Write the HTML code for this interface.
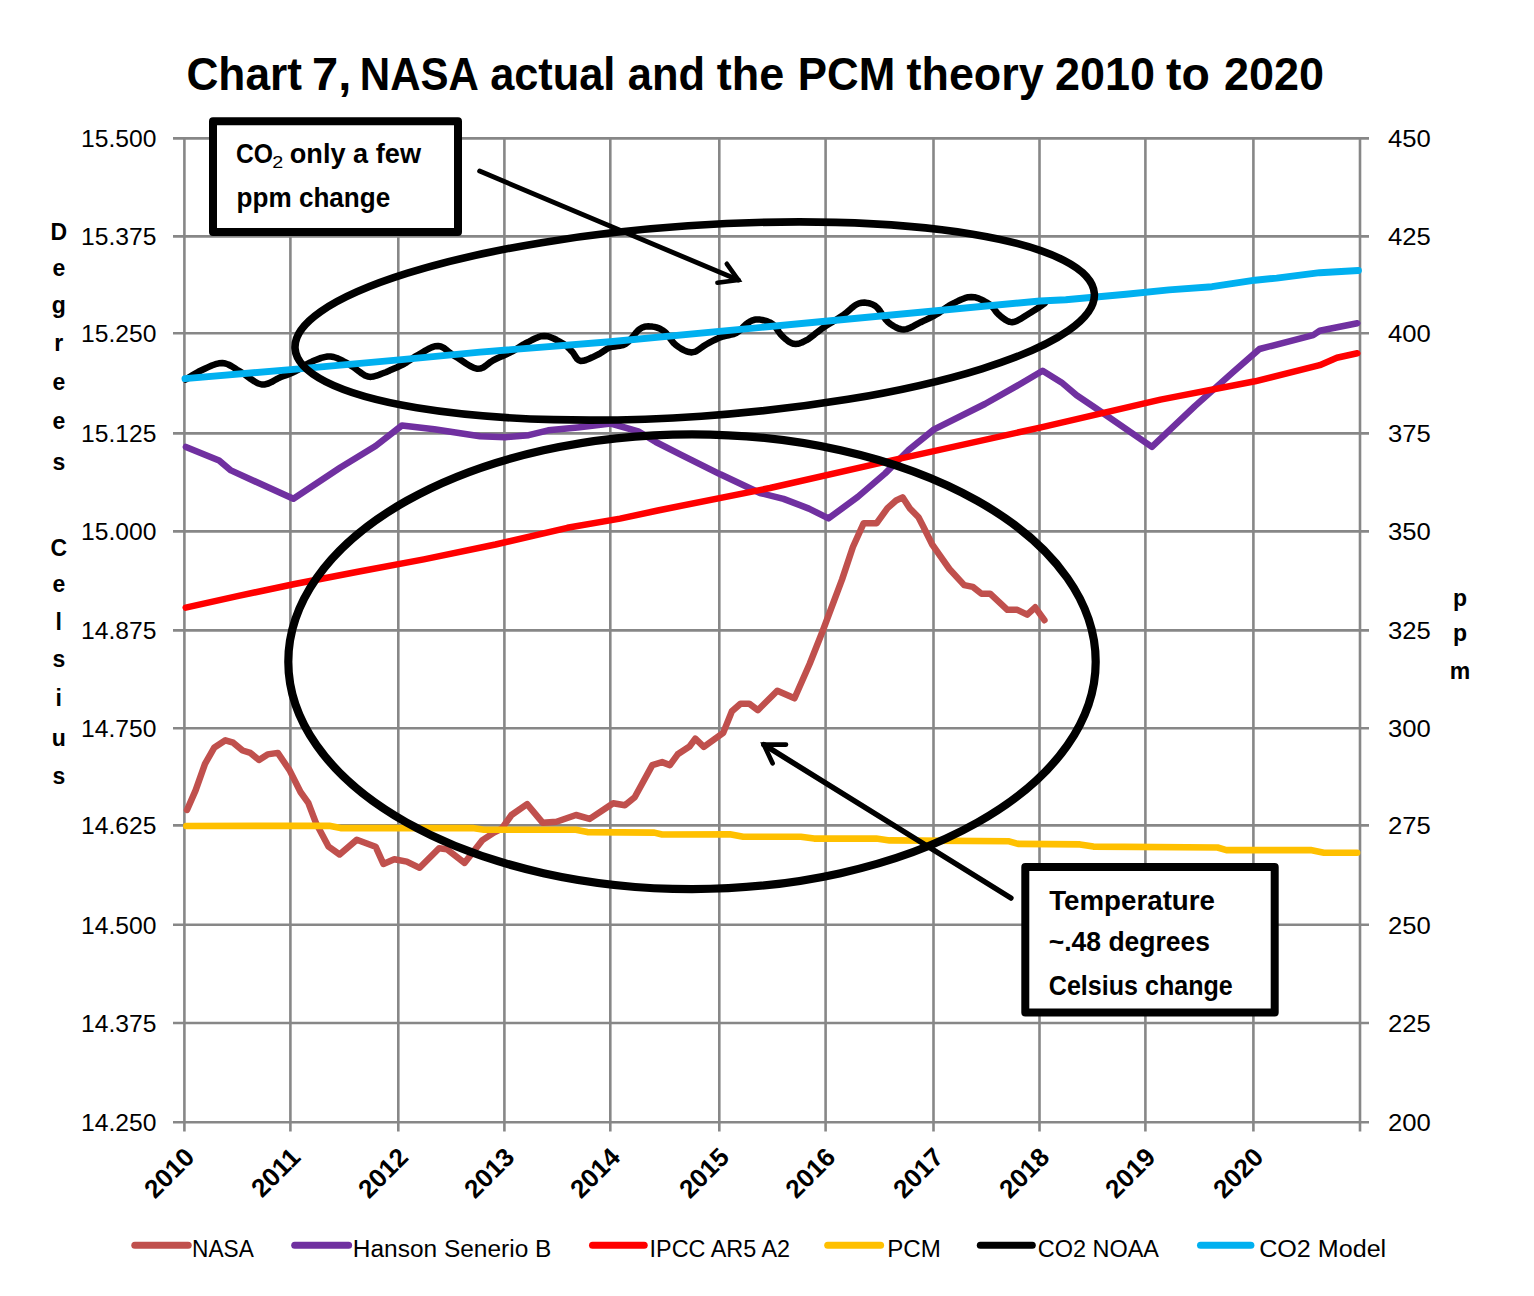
<!DOCTYPE html>
<html><head><meta charset="utf-8"><title>Chart 7, NASA actual and the PCM theory 2010 to 2020</title>
<style>html,body{margin:0;padding:0;background:#fff;overflow:hidden;}svg{display:block;}text{font-family:"Liberation Sans",sans-serif;fill:#000;}</style>
</head><body>
<svg width="1534" height="1296" viewBox="0 0 1534 1296"><line x1="173" y1="138.4" x2="1369" y2="138.4" stroke="#878787" stroke-width="2.6"/>
<line x1="173" y1="236.4" x2="1369" y2="236.4" stroke="#878787" stroke-width="2.6"/>
<line x1="173" y1="333.3" x2="1369" y2="333.3" stroke="#878787" stroke-width="2.6"/>
<line x1="173" y1="433.4" x2="1369" y2="433.4" stroke="#878787" stroke-width="2.6"/>
<line x1="173" y1="531.4" x2="1369" y2="531.4" stroke="#878787" stroke-width="2.6"/>
<line x1="173" y1="630.4" x2="1369" y2="630.4" stroke="#878787" stroke-width="2.6"/>
<line x1="173" y1="728.2" x2="1369" y2="728.2" stroke="#878787" stroke-width="2.6"/>
<line x1="173" y1="825.4" x2="1369" y2="825.4" stroke="#878787" stroke-width="2.6"/>
<line x1="173" y1="924.8" x2="1369" y2="924.8" stroke="#878787" stroke-width="2.6"/>
<line x1="173" y1="1023.0" x2="1369" y2="1023.0" stroke="#878787" stroke-width="2.6"/>
<line x1="173" y1="1122.3" x2="1369" y2="1122.3" stroke="#878787" stroke-width="2.6"/>
<line x1="184.4" y1="138.4" x2="184.4" y2="1131.5" stroke="#878787" stroke-width="2.6"/>
<line x1="290.4" y1="138.4" x2="290.4" y2="1131.5" stroke="#878787" stroke-width="2.6"/>
<line x1="398.3" y1="138.4" x2="398.3" y2="1131.5" stroke="#878787" stroke-width="2.6"/>
<line x1="504.4" y1="138.4" x2="504.4" y2="1131.5" stroke="#878787" stroke-width="2.6"/>
<line x1="610.3" y1="138.4" x2="610.3" y2="1131.5" stroke="#878787" stroke-width="2.6"/>
<line x1="719.3" y1="138.4" x2="719.3" y2="1131.5" stroke="#878787" stroke-width="2.6"/>
<line x1="825.6" y1="138.4" x2="825.6" y2="1131.5" stroke="#878787" stroke-width="2.6"/>
<line x1="933.5" y1="138.4" x2="933.5" y2="1131.5" stroke="#878787" stroke-width="2.6"/>
<line x1="1039.5" y1="138.4" x2="1039.5" y2="1131.5" stroke="#878787" stroke-width="2.6"/>
<line x1="1145.4" y1="138.4" x2="1145.4" y2="1131.5" stroke="#878787" stroke-width="2.6"/>
<line x1="1253.4" y1="138.4" x2="1253.4" y2="1131.5" stroke="#878787" stroke-width="2.6"/>
<line x1="1360.0" y1="138.4" x2="1360.0" y2="1131.5" stroke="#878787" stroke-width="2.6"/>
<polyline points="187.0,810.0 195.6,790.4 205.0,763.8 214.4,747.4 225.4,740.3 233.2,742.7 242.6,750.5 250.4,752.9 259.0,759.9 267.6,754.4 277.8,752.9 289.5,770.1 300.5,792.0 308.3,802.9 316.1,823.3 328.6,846.7 339.6,854.5 356.8,839.7 375.6,846.7 383.4,863.9 394.3,859.2 406.8,861.6 419.6,867.8 439.1,848.2 446.9,849.2 464.5,862.9 482.1,840.4 493.9,832.6 501.7,828.6 511.5,815.0 527.1,804.2 542.8,822.8 556.5,821.8 576.0,815.0 589.7,818.9 613.2,803.2 624.9,805.2 634.7,797.3 652.3,765.1 662.1,762.1 669.9,765.1 677.7,754.3 689.5,746.5 695.3,738.7 703.8,746.9 723.2,732.9 731.9,711.3 740.5,703.7 749.2,703.7 757.8,710.2 777.3,690.7 794.5,698.3 809.7,663.7 822.6,631.3 842.1,579.4 852.9,547.0 863.7,523.2 876.7,523.2 887.5,508.1 896.1,500.5 902.6,497.3 909.9,508.5 918.5,517.2 923.5,527.0 932.1,544.3 940.7,556.7 949.4,569.0 964.2,585.1 972.8,586.9 981.5,593.7 990.1,593.7 1007.4,609.8 1017.3,609.8 1027.2,614.7 1035.2,607.3 1044.4,620.2" fill="none" stroke="#C0504D" stroke-width="6.5" stroke-linejoin="round" stroke-linecap="round"/>
<polyline points="185.9,446.9 219.1,460.6 230.9,470.4 293.4,498.8 340.4,467.5 375.6,446.0 402.0,425.4 434.3,429.3 480.0,436.2 505.2,437.2 528.7,435.2 548.2,430.3 577.6,427.4 610.8,423.5 638.2,431.3 655.8,442.0 681.2,454.8 720.3,474.3 760.0,493.0 783.5,498.9 808.9,508.6 828.5,518.4 857.8,496.9 885.2,473.4 908.6,450.0 934.1,429.4 984.9,404.0 1014.3,387.4 1042.6,370.8 1061.5,382.4 1076.6,395.3 1095.9,408.2 1151.9,446.9 1194.9,406.1 1233.6,371.6 1259.5,349.0 1313.2,335.1 1319.7,330.8 1357.3,323.2" fill="none" stroke="#7030A0" stroke-width="6.5" stroke-linejoin="round" stroke-linecap="round"/>
<polyline points="185.7,607.6 237.4,596.1 294.7,584.0 357.9,571.7 423.8,559.4 495.5,544.5 567.3,527.8 620.0,518.6 657.8,510.5 770.0,488.0 877.3,463.7 1040.0,427.6 1160.5,399.6 1255.0,381.3 1319.7,365.2 1336.9,357.7 1357.3,353.3" fill="none" stroke="#FF0000" stroke-width="6.5" stroke-linejoin="round" stroke-linecap="round"/>
<polyline points="186.3,826.0 329.2,825.8 340.6,828.1 472.6,828.1 484.0,829.8 575.9,829.8 587.3,832.1 654.3,832.6 662.1,834.5 729.9,834.2 743.2,836.8 800.8,836.8 814.1,838.6 876.2,838.6 889.5,840.4 1009.1,841.3 1018.0,843.9 1080.0,844.4 1093.4,846.6 1217.5,847.5 1226.4,850.1 1310.6,850.1 1323.9,852.8 1357.1,852.8" fill="none" stroke="#FFC000" stroke-width="6.6" stroke-linejoin="round" stroke-linecap="round"/>
<polyline points="185.7,379.5 187.4,378.5 189.6,377.0 192.3,375.3 195.3,373.5 198.4,371.7 201.5,370.2 204.7,368.7 208.2,367.1 211.8,365.5 215.4,364.2 218.9,363.3 222.3,363.0 225.4,363.5 228.3,364.5 231.2,366.0 234.1,367.8 237.0,369.7 240.2,371.6 243.6,373.7 247.2,376.3 250.9,379.0 254.6,381.5 258.2,383.5 261.7,384.5 265.0,384.4 268.3,383.5 271.5,382.1 274.6,380.3 277.6,378.6 280.4,377.3 283.0,376.3 285.4,375.4 287.6,374.6 289.9,373.8 292.2,372.8 294.7,371.6 297.4,370.1 300.2,368.4 303.1,366.6 306.0,364.7 309.0,363.0 312.0,361.6 315.0,360.3 318.1,359.1 321.2,357.9 324.4,357.1 327.5,356.5 330.6,356.5 333.7,357.0 336.8,358.0 339.9,359.4 343.0,361.0 346.1,362.7 349.2,364.4 352.3,366.4 355.5,368.7 358.7,371.2 361.9,373.5 365.0,375.4 367.9,376.6 370.8,376.9 373.7,376.5 376.5,375.7 379.2,374.7 381.6,373.7 383.6,373.0 385.1,372.5 386.1,372.2 386.9,371.8 387.6,371.4 388.6,371.0 390.0,370.3 391.9,369.5 394.2,368.5 396.7,367.5 399.2,366.3 401.8,365.1 404.3,363.8 406.6,362.4 408.9,360.9 411.2,359.3 413.5,357.7 416.0,356.0 418.7,354.5 421.7,352.8 424.9,350.9 428.2,349.0 431.6,347.4 434.9,346.2 438.0,345.9 440.8,346.5 443.5,347.7 446.0,349.6 448.6,351.7 451.4,353.9 454.5,355.9 458.0,358.1 462.0,360.8 466.0,363.5 470.1,366.0 474.0,367.9 477.5,368.8 480.5,368.6 483.2,367.5 485.7,365.8 488.1,363.9 490.6,361.9 493.3,360.2 496.3,358.8 499.5,357.3 502.7,355.9 505.9,354.5 509.0,353.0 511.9,351.6 514.5,350.1 516.8,348.7 519.1,347.2 521.3,345.8 523.7,344.3 526.2,343.0 529.0,341.6 531.9,340.0 535.0,338.5 538.1,337.2 541.2,336.2 544.2,335.9 547.3,336.2 550.5,337.2 553.7,338.5 556.7,340.0 559.6,341.6 562.1,343.0 564.2,344.3 566.1,345.7 567.7,347.2 569.2,348.6 570.6,350.1 572.1,351.6 573.5,353.3 574.7,355.3 575.9,357.2 577.2,359.0 578.8,360.3 580.7,361.0 583.1,360.8 586.0,360.0 589.1,358.8 592.3,357.3 595.3,355.8 598.0,354.5 600.3,353.3 602.3,352.0 604.1,350.8 605.9,349.5 607.8,348.4 610.0,347.4 612.4,346.7 615.0,346.4 617.8,346.1 620.5,345.7 623.2,345.0 625.8,343.8 628.3,341.8 630.8,339.1 633.2,336.2 635.6,333.2 637.9,330.6 640.2,328.7 642.3,327.5 644.4,326.8 646.4,326.4 648.3,326.3 650.3,326.4 652.3,326.6 654.3,326.9 656.4,327.4 658.4,328.1 660.5,329.0 662.5,330.2 664.5,331.6 666.4,333.4 668.2,335.7 670.0,338.3 671.9,340.8 673.8,343.2 676.0,345.2 678.4,346.9 681.0,348.6 683.7,350.1 686.5,351.4 689.2,352.1 691.8,352.4 694.3,351.9 696.7,350.9 699.0,349.3 701.4,347.6 703.7,346.0 706.1,344.5 708.5,343.2 710.8,341.9 713.2,340.7 715.6,339.5 718.0,338.3 720.5,337.3 723.1,336.5 725.8,335.9 728.5,335.3 731.2,334.7 733.8,334.0 736.2,333.0 738.4,331.6 740.4,329.9 742.3,328.0 744.1,326.1 745.9,324.4 747.7,323.0 749.4,321.9 751.0,321.0 752.6,320.3 754.2,319.8 755.9,319.5 757.8,319.4 760.0,319.6 762.4,320.0 765.0,320.6 767.5,321.4 769.9,322.4 772.1,323.7 774.0,325.3 775.7,327.3 777.3,329.6 778.8,331.9 780.4,334.0 782.1,335.9 783.9,337.6 785.8,339.3 787.7,340.8 789.6,342.2 791.6,343.2 793.6,343.8 795.6,344.0 797.7,343.8 799.7,343.3 801.9,342.5 804.1,341.4 806.5,340.2 809.0,338.7 811.6,336.7 814.3,334.6 817.1,332.3 820.0,330.1 823.0,327.9 826.1,325.8 829.4,323.8 832.8,321.7 836.2,319.7 839.5,317.6 842.6,315.6 845.5,313.4 848.3,311.0 851.0,308.6 853.6,306.4 856.2,304.6 858.9,303.4 861.7,302.8 864.5,302.6 867.3,302.9 870.0,303.5 872.7,304.5 875.2,305.9 877.5,307.9 879.7,310.6 881.8,313.7 883.8,316.9 885.9,319.8 888.2,322.2 890.6,324.1 893.1,325.8 895.7,327.3 898.3,328.5 901.0,329.2 903.7,329.5 906.5,329.1 909.3,328.2 912.2,326.8 915.1,325.2 918.0,323.6 920.8,322.2 923.6,320.9 926.4,319.6 929.1,318.3 931.8,316.9 934.5,315.5 937.1,314.0 939.6,312.4 941.9,310.8 944.2,309.0 946.6,307.3 949.1,305.7 951.8,304.2 954.8,302.7 958.0,301.0 961.3,299.5 964.7,298.2 968.1,297.2 971.3,296.9 974.5,297.2 977.7,298.1 980.9,299.4 984.0,301.0 986.8,302.6 989.3,304.2 991.4,305.8 993.0,307.6 994.5,309.5 995.8,311.4 997.3,313.2 999.0,314.8 1000.9,316.4 1003.0,318.1 1005.1,319.7 1007.4,321.0 1009.7,321.9 1012.1,322.2 1014.6,321.8 1017.3,320.7 1020.1,319.2 1022.8,317.5 1025.6,315.7 1028.4,314.0 1031.3,312.2 1034.4,310.3 1037.6,308.2 1040.5,306.2 1042.9,304.6 1044.7,303.4" fill="none" stroke="#000000" stroke-width="6.5" stroke-linejoin="round" stroke-linecap="round"/>
<polyline points="185.0,378.6 290.5,369.6 399.0,359.9 480.0,352.1 610.0,341.7 820.0,321.8 1040.0,301.0 1065.8,299.8 1126.0,294.3 1169.0,289.9 1212.0,286.7 1255.0,280.2 1276.7,278.1 1319.7,272.7 1358.4,270.5" fill="none" stroke="#00B0F0" stroke-width="6.9" stroke-linejoin="round" stroke-linecap="round"/>
<ellipse cx="694.7" cy="321" rx="400.6" ry="95.4" transform="rotate(-3.95 694.7 321)" fill="none" stroke="#000" stroke-width="7.6"/>
<ellipse cx="692" cy="661.7" rx="403.7" ry="227.4" fill="none" stroke="#000" stroke-width="8.2"/>
<line x1="479.6" y1="171.1" x2="738.3" y2="280.0" stroke="#000" stroke-width="4.9" stroke-linecap="round"/>
<polyline points="726.8,263.8 738.3,280.0 717.4,282.7" fill="none" stroke="#000" stroke-width="4.6" stroke-linejoin="miter" stroke-linecap="round" stroke-miterlimit="10"/>
<line x1="1010.9" y1="898" x2="763.9" y2="744.7" stroke="#000" stroke-width="5.5" stroke-linecap="round"/>
<polyline points="786,744.6 763.9,744.7 772.6,763.3" fill="none" stroke="#000" stroke-width="4.7" stroke-linejoin="miter" stroke-linecap="round" stroke-miterlimit="10"/>
<rect x="213" y="121.3" width="245" height="110.7" fill="#fff" stroke="#000" stroke-width="8" stroke-linejoin="round"/>
<rect x="1025.3" y="867.1" width="249.4" height="145.4" fill="#fff" stroke="#000" stroke-width="8" stroke-linejoin="round"/>
<text x="186.40" y="90" font-size="47" font-weight="bold" text-anchor="start" textLength="115.60" lengthAdjust="spacingAndGlyphs">Chart</text>
<text x="312.00" y="90" font-size="47" font-weight="bold" text-anchor="start" textLength="39.20" lengthAdjust="spacingAndGlyphs">7,</text>
<text x="359.80" y="90" font-size="47" font-weight="bold" text-anchor="start" textLength="119.20" lengthAdjust="spacingAndGlyphs">NASA</text>
<text x="490.20" y="90" font-size="47" font-weight="bold" text-anchor="start" textLength="125.20" lengthAdjust="spacingAndGlyphs">actual</text>
<text x="627.80" y="90" font-size="47" font-weight="bold" text-anchor="start" textLength="77.20" lengthAdjust="spacingAndGlyphs">and</text>
<text x="716.80" y="90" font-size="47" font-weight="bold" text-anchor="start" textLength="67.40" lengthAdjust="spacingAndGlyphs">the</text>
<text x="797.80" y="90" font-size="47" font-weight="bold" text-anchor="start" textLength="97.40" lengthAdjust="spacingAndGlyphs">PCM</text>
<text x="906.60" y="90" font-size="47" font-weight="bold" text-anchor="start" textLength="137.00" lengthAdjust="spacingAndGlyphs">theory</text>
<text x="1055.00" y="90" font-size="47" font-weight="bold" text-anchor="start" textLength="100.00" lengthAdjust="spacingAndGlyphs">2010</text>
<text x="1166.00" y="90" font-size="47" font-weight="bold" text-anchor="start" textLength="43.80" lengthAdjust="spacingAndGlyphs">to</text>
<text x="1224.00" y="90" font-size="47" font-weight="bold" text-anchor="start" textLength="100.00" lengthAdjust="spacingAndGlyphs">2020</text>
<text x="236.00" y="163" font-size="27.5" font-weight="bold" text-anchor="start" textLength="37.00" lengthAdjust="spacingAndGlyphs">CO</text>
<text x="272.20" y="167.6" font-size="17" text-anchor="start" textLength="11.00" lengthAdjust="spacingAndGlyphs">2</text>
<text x="289.80" y="163" font-size="27.5" font-weight="bold" text-anchor="start" textLength="131.20" lengthAdjust="spacingAndGlyphs">only a few</text>
<text x="236.60" y="206.7" font-size="27.5" font-weight="bold" text-anchor="start" textLength="153.60" lengthAdjust="spacingAndGlyphs">ppm change</text>
<text x="1049.20" y="910" font-size="28" font-weight="bold" text-anchor="start" textLength="165.80" lengthAdjust="spacingAndGlyphs">Temperature</text>
<text x="1048.80" y="951.3" font-size="28" font-weight="bold" text-anchor="start" textLength="161.20" lengthAdjust="spacingAndGlyphs">~.48 degrees</text>
<text x="1048.80" y="995.1" font-size="28" font-weight="bold" text-anchor="start" textLength="184.00" lengthAdjust="spacingAndGlyphs">Celsius change</text>
<text x="81.00" y="147.3" font-size="23" text-anchor="start" textLength="75.40" lengthAdjust="spacingAndGlyphs">15.500</text>
<text x="81.00" y="245.3" font-size="23" text-anchor="start" textLength="75.40" lengthAdjust="spacingAndGlyphs">15.375</text>
<text x="81.00" y="342.2" font-size="23" text-anchor="start" textLength="75.40" lengthAdjust="spacingAndGlyphs">15.250</text>
<text x="81.00" y="442.3" font-size="23" text-anchor="start" textLength="75.40" lengthAdjust="spacingAndGlyphs">15.125</text>
<text x="81.00" y="540.3" font-size="23" text-anchor="start" textLength="75.40" lengthAdjust="spacingAndGlyphs">15.000</text>
<text x="81.00" y="639.3" font-size="23" text-anchor="start" textLength="75.40" lengthAdjust="spacingAndGlyphs">14.875</text>
<text x="81.00" y="737.1" font-size="23" text-anchor="start" textLength="75.40" lengthAdjust="spacingAndGlyphs">14.750</text>
<text x="81.00" y="834.3" font-size="23" text-anchor="start" textLength="75.40" lengthAdjust="spacingAndGlyphs">14.625</text>
<text x="81.00" y="933.7" font-size="23" text-anchor="start" textLength="75.40" lengthAdjust="spacingAndGlyphs">14.500</text>
<text x="81.00" y="1031.9" font-size="23" text-anchor="start" textLength="75.40" lengthAdjust="spacingAndGlyphs">14.375</text>
<text x="81.00" y="1131.2" font-size="23" text-anchor="start" textLength="75.40" lengthAdjust="spacingAndGlyphs">14.250</text>
<text x="1388.00" y="147.3" font-size="23" text-anchor="start" textLength="42.80" lengthAdjust="spacingAndGlyphs">450</text>
<text x="1388.00" y="245.3" font-size="23" text-anchor="start" textLength="42.80" lengthAdjust="spacingAndGlyphs">425</text>
<text x="1388.00" y="342.2" font-size="23" text-anchor="start" textLength="42.80" lengthAdjust="spacingAndGlyphs">400</text>
<text x="1388.00" y="442.3" font-size="23" text-anchor="start" textLength="42.80" lengthAdjust="spacingAndGlyphs">375</text>
<text x="1388.00" y="540.3" font-size="23" text-anchor="start" textLength="42.80" lengthAdjust="spacingAndGlyphs">350</text>
<text x="1388.00" y="639.3" font-size="23" text-anchor="start" textLength="42.80" lengthAdjust="spacingAndGlyphs">325</text>
<text x="1388.00" y="737.1" font-size="23" text-anchor="start" textLength="42.80" lengthAdjust="spacingAndGlyphs">300</text>
<text x="1388.00" y="834.3" font-size="23" text-anchor="start" textLength="42.80" lengthAdjust="spacingAndGlyphs">275</text>
<text x="1388.00" y="933.7" font-size="23" text-anchor="start" textLength="42.80" lengthAdjust="spacingAndGlyphs">250</text>
<text x="1388.00" y="1031.9" font-size="23" text-anchor="start" textLength="42.80" lengthAdjust="spacingAndGlyphs">225</text>
<text x="1388.00" y="1131.2" font-size="23" text-anchor="start" textLength="42.80" lengthAdjust="spacingAndGlyphs">200</text>
<text x="58.8" y="240.2" font-size="23" font-weight="bold" text-anchor="middle">D</text>
<text x="58.8" y="276" font-size="23" font-weight="bold" text-anchor="middle">e</text>
<text x="58.8" y="313.4" font-size="23" font-weight="bold" text-anchor="middle">g</text>
<text x="58.8" y="351" font-size="23" font-weight="bold" text-anchor="middle">r</text>
<text x="58.8" y="390.1" font-size="23" font-weight="bold" text-anchor="middle">e</text>
<text x="58.8" y="429.3" font-size="23" font-weight="bold" text-anchor="middle">e</text>
<text x="58.8" y="469.6" font-size="23" font-weight="bold" text-anchor="middle">s</text>
<text x="58.8" y="555.9" font-size="23" font-weight="bold" text-anchor="middle">C</text>
<text x="58.8" y="591.7" font-size="23" font-weight="bold" text-anchor="middle">e</text>
<text x="58.8" y="629.7" font-size="23" font-weight="bold" text-anchor="middle">l</text>
<text x="58.8" y="666.6" font-size="23" font-weight="bold" text-anchor="middle">s</text>
<text x="58.8" y="705.8" font-size="23" font-weight="bold" text-anchor="middle">i</text>
<text x="58.8" y="746" font-size="23" font-weight="bold" text-anchor="middle">u</text>
<text x="58.8" y="784" font-size="23" font-weight="bold" text-anchor="middle">s</text>
<text x="1460" y="605.6" font-size="23" font-weight="bold" text-anchor="middle">p</text>
<text x="1460" y="640.7" font-size="23" font-weight="bold" text-anchor="middle">p</text>
<text x="1460" y="678.8" font-size="23" font-weight="bold" text-anchor="middle">m</text>
<text transform="translate(195.9,1158.8) rotate(-45)" font-size="26" font-weight="bold" text-anchor="end">2010</text>
<text transform="translate(301.9,1158.8) rotate(-45)" font-size="26" font-weight="bold" text-anchor="end">2011</text>
<text transform="translate(409.8,1158.8) rotate(-45)" font-size="26" font-weight="bold" text-anchor="end">2012</text>
<text transform="translate(515.9,1158.8) rotate(-45)" font-size="26" font-weight="bold" text-anchor="end">2013</text>
<text transform="translate(621.8,1158.8) rotate(-45)" font-size="26" font-weight="bold" text-anchor="end">2014</text>
<text transform="translate(730.8,1158.8) rotate(-45)" font-size="26" font-weight="bold" text-anchor="end">2015</text>
<text transform="translate(837.1,1158.8) rotate(-45)" font-size="26" font-weight="bold" text-anchor="end">2016</text>
<text transform="translate(945.0,1158.8) rotate(-45)" font-size="26" font-weight="bold" text-anchor="end">2017</text>
<text transform="translate(1051.0,1158.8) rotate(-45)" font-size="26" font-weight="bold" text-anchor="end">2018</text>
<text transform="translate(1156.9,1158.8) rotate(-45)" font-size="26" font-weight="bold" text-anchor="end">2019</text>
<text transform="translate(1264.9,1158.8) rotate(-45)" font-size="26" font-weight="bold" text-anchor="end">2020</text>
<line x1="134.8" y1="1245.2" x2="188.2" y2="1245.2" stroke="#C0504D" stroke-width="7" stroke-linecap="round"/>
<text x="192.00" y="1257" font-size="23" text-anchor="start" textLength="61.80" lengthAdjust="spacingAndGlyphs">NASA</text>
<line x1="294.7" y1="1245.2" x2="348.6" y2="1245.2" stroke="#7030A0" stroke-width="7" stroke-linecap="round"/>
<text x="352.80" y="1257" font-size="23" text-anchor="start" textLength="198.60" lengthAdjust="spacingAndGlyphs">Hanson Senerio B</text>
<line x1="592.5" y1="1245.2" x2="644.2" y2="1245.2" stroke="#FF0000" stroke-width="7" stroke-linecap="round"/>
<text x="649.60" y="1257" font-size="23" text-anchor="start" textLength="140.40" lengthAdjust="spacingAndGlyphs">IPCC AR5 A2</text>
<line x1="827.7" y1="1245.2" x2="880.6" y2="1245.2" stroke="#FFC000" stroke-width="7" stroke-linecap="round"/>
<text x="887.20" y="1257" font-size="23" text-anchor="start" textLength="53.60" lengthAdjust="spacingAndGlyphs">PCM</text>
<line x1="980.3" y1="1245.2" x2="1032.3" y2="1245.2" stroke="#000000" stroke-width="7" stroke-linecap="round"/>
<text x="1037.80" y="1257" font-size="23" text-anchor="start" textLength="121.20" lengthAdjust="spacingAndGlyphs">CO2 NOAA</text>
<line x1="1200.5" y1="1245.2" x2="1250.9" y2="1245.2" stroke="#00B0F0" stroke-width="7" stroke-linecap="round"/>
<text x="1259.20" y="1257" font-size="23" text-anchor="start" textLength="127.00" lengthAdjust="spacingAndGlyphs">CO2 Model</text></svg>
</body></html>
